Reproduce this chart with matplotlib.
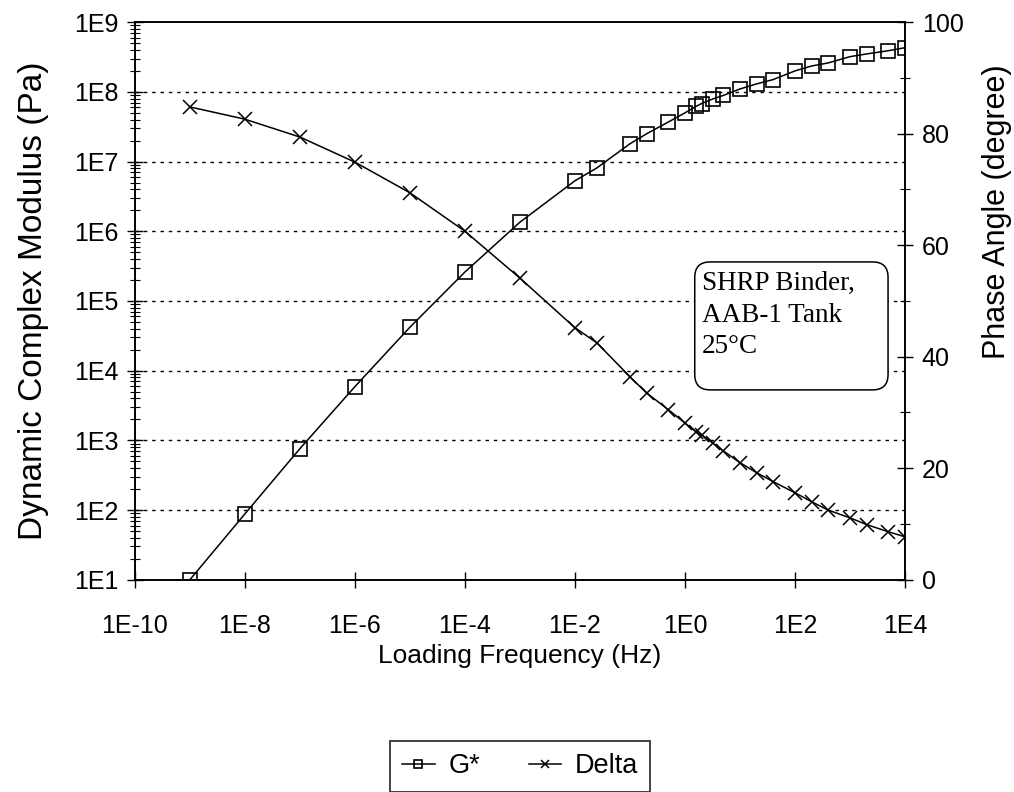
import numpy as np
import matplotlib.pyplot as plt
from matplotlib.patches import FancyBboxPatch
from matplotlib.ticker import FixedLocator, LogLocator, NullFormatter, MultipleLocator

plt.rcParams['font.family'] = ['Liberation Sans', 'DejaVu Sans']

# loading frequency (Hz)
freq = [1e-9, 1e-8, 1e-7, 1e-6, 1e-5, 1e-4, 1e-3,
        1e-2, 2.5e-2, 1e-1, 2e-1, 5e-1, 1.0, 1.6, 2.0, 3.2, 5.0,
        10, 20, 40, 100, 200, 400, 1000, 2000, 5000, 1e4]
# dynamic complex modulus G* (Pa)
g_star = [10, 88, 760, 5900, 42000, 2.6e5, 1.35e6,
          5.3e6, 8.1e6, 1.8e7, 2.5e7, 3.7e7, 5.0e7, 6.2e7, 6.8e7, 7.9e7, 8.9e7,
          1.1e8, 1.3e8, 1.5e8, 2.0e8, 2.35e8, 2.6e8, 3.2e8, 3.5e8, 3.9e8, 4.3e8]
# phase angle delta (degree)
delta = [84.8, 82.6, 79.4, 74.9, 69.4, 62.5, 54.1,
         45.2, 42.5, 36.4, 33.5, 30.5, 28.1, 26.5, 26.0, 24.5, 23.1,
         21.0, 19.2, 17.6, 15.6, 14.0, 12.5, 11.1, 9.9, 8.6, 7.7]

x_ticks = [1e-10, 1e-8, 1e-6, 1e-4, 1e-2, 1e0, 1e2, 1e4]
x_labels = ['1E-10', '1E-8', '1E-6', '1E-4', '1E-2', '1E0', '1E2', '1E4']
y_ticks = [1e1, 1e2, 1e3, 1e4, 1e5, 1e6, 1e7, 1e8, 1e9]
y_labels = ['1E1', '1E2', '1E3', '1E4', '1E5', '1E6', '1E7', '1E8', '1E9']

fig = plt.figure(figsize=(10.14, 7.92), dpi=100)
ax = fig.add_axes([0.133, 0.268, 0.7595, 0.704])
ax2 = ax.twinx()

l1, = ax.plot(freq, g_star, color='black', lw=1.1, marker='s', markersize=10,
              markerfacecolor='none', markeredgecolor='black', markeredgewidth=1.2,
              label='G*')
l2, = ax2.plot(freq, delta, color='black', lw=1.1, marker='x', markersize=10,
               markeredgewidth=1.1, label='Delta')

ax.set_xscale('log')
ax.set_yscale('log')
ax.set_xlim(1e-10, 1e4)
ax.set_ylim(1e1, 1e9)
ax2.set_ylim(0, 100)

ax.xaxis.set_major_locator(FixedLocator(x_ticks))
ax.set_xticklabels(x_labels)
ax.xaxis.set_minor_locator(FixedLocator([]))
ax.yaxis.set_major_locator(FixedLocator(y_ticks))
ax.set_yticklabels(y_labels)
ax.yaxis.set_minor_locator(LogLocator(base=10, subs=np.arange(2, 10), numticks=20))
ax.yaxis.set_minor_formatter(NullFormatter())

ax2.yaxis.set_major_locator(MultipleLocator(20))
ax2.yaxis.set_minor_locator(MultipleLocator(10))

for a in (ax, ax2):
    a.tick_params(which='major', direction='inout', length=12, width=1, labelsize=18, pad=6)
    a.tick_params(which='minor', direction='inout', length=7, width=0.8)
    for s in a.spines.values():
        s.set_linewidth(1.2)
ax.tick_params(axis='x', pad=19)

# dotted horizontal grid at each decade
for yv in y_ticks[1:-1]:
    ax.axhline(yv, color='black', lw=1.0, ls=(0, (2.5, 3.5)), zorder=0)

ax.set_xlabel('Loading Frequency (Hz)', fontsize=19, labelpad=4)
ax.set_ylabel('Dynamic Complex Modulus (Pa)', fontsize=24)
ax.yaxis.set_label_coords(-0.112, 0.5)
ax2.set_ylabel('Phase Angle (degree)', fontsize=22)
ax2.yaxis.set_label_coords(1.1, 0.66)

# annotation box
box = FancyBboxPatch((0.727, 0.3405), 0.251, 0.2295,
                     boxstyle='round,pad=0,rounding_size=0.02',
                     mutation_aspect=770 / 558, transform=ax.transAxes,
                     facecolor='white', edgecolor='black', linewidth=1.1, zorder=5)
ax2.add_patch(box)
ax2.text(0.736, 0.554, 'SHRP Binder,\nAAB-1 Tank\n25°C', transform=ax.transAxes,
         fontsize=19.5, family='Liberation Serif', va='top', ha='left',
         linespacing=1.35, zorder=6)

leg = fig.legend([l1, l2], ['G*', 'Delta'], loc='upper center',
                 bbox_to_anchor=(0.513, 0.064), ncol=2, fontsize=19.5, frameon=True,
                 fancybox=False, edgecolor='black', markerscale=0.6,
                 handlelength=1.2, handletextpad=0.5, columnspacing=1.8,
                 borderpad=0.45, borderaxespad=0)
leg.get_frame().set_linewidth(1.3)

fig.savefig('out.png', dpi=100)
